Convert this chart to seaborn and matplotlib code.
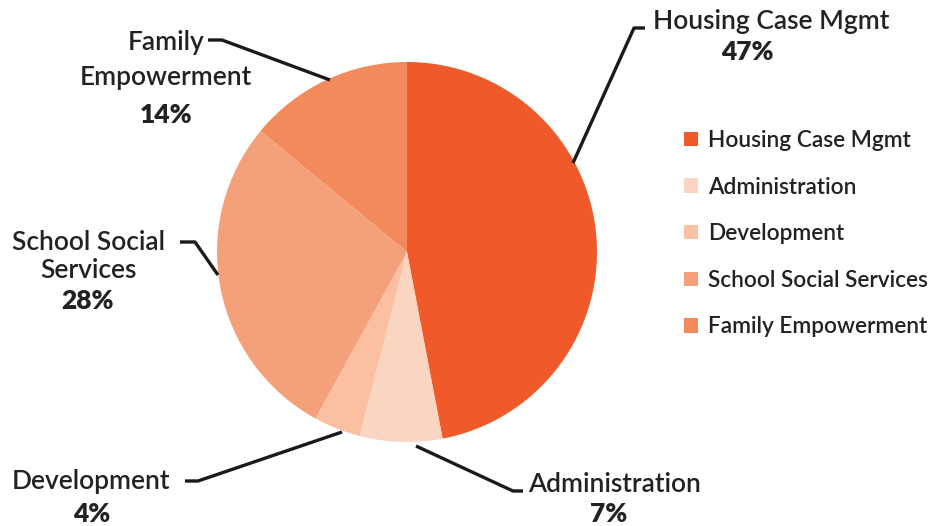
import matplotlib
matplotlib.use("Agg")
import matplotlib.pyplot as plt
import seaborn as sns
import numpy as np

categories = ["Housing Case Mgmt", "Administration", "Development",
              "School Social Services", "Family Empowerment"]
values = [47, 7, 4, 28, 14]
label_texts = ["Housing Case Mgmt", "Administration", "Development",
               "School Social\nServices", "Family\nEmpowerment"]
colors = ["#F05A2A", "#FAD5C1", "#FBC0A2", "#F4A17B", "#F28A5B"]

sns.set_theme(style="white")
plt.rcParams['font.family'] = ['Lato', 'DejaVu Sans']

W, H = 936, 526
fig = plt.figure(figsize=(W / 100, H / 100), dpi=100)
ax = fig.add_axes([0, 0, 1, 1])

cx, cy, R = 407, H - 252, 190
wedges, _ = ax.pie(values, colors=colors, startangle=90, counterclock=False,
                   radius=R, center=(cx, cy), frame=True,
                   wedgeprops=dict(linewidth=0))
ax.set_xlim(0, W)
ax.set_ylim(0, H)
ax.set_aspect('equal')
ax.axis('off')

# leader lines: (anchor on pie, elbow, end) in pixel coords (layout)
leaders = [
    [(573, 163), (634, 28), (645, 28)],
    [(416, 446), (513, 491), (523, 491)],
    [(342, 432), (198, 481), (185, 481)],
    [(218, 275), (195, 242), (180, 242)],
    [(330, 80), (222, 40), (208, 40)],
]
for pts in leaders:
    xs = [p[0] for p in pts]
    ys = [H - p[1] for p in pts]
    ax.plot(xs, ys, color="#1a1a1a", lw=2.4, solid_capstyle='butt')

# label positions (name block center, percent center, line spacing)
lab_pos = [
    ((771, 21), (747, 52), 1.2),
    ((614, 484), (609, 514), 1.2),
    ((91, 482), (92, 514), 1.2),
    ((88, 257), (87, 301), 1.15),
    ((166, 60), (166, 115), 1.5),
]
fs = 19
for txt, v, ((lx, ly), (px, py), ls) in zip(label_texts, values, lab_pos):
    ax.text(lx, H - ly, txt, ha='center', va='center', fontsize=fs,
            color="#222222", linespacing=ls, fontweight='semibold')
    ax.text(px, H - py, f"{v}%", ha='center', va='center', fontsize=fs,
            fontweight='heavy', color="#222222")

leg = ax.legend(wedges, categories, loc='upper left',
                bbox_to_anchor=(684 / W, 1 - 130 / H),
                frameon=False, handlelength=0.6,
                handleheight=0.6, handletextpad=0.45, labelspacing=1.13,
                borderaxespad=0, borderpad=0,
                prop=dict(size=16.3, weight='semibold'))
for t in leg.get_texts():
    t.set_color("#222222")

fig.savefig("out.png", dpi=100)
